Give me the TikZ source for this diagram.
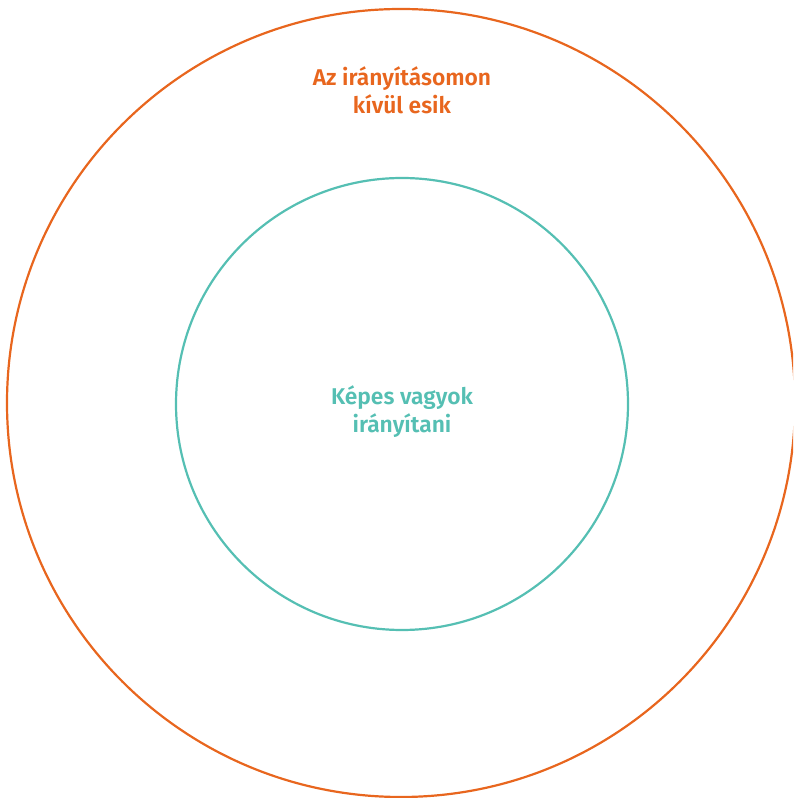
\documentclass[tikz,border=0pt]{standalone}
\usepackage{fontspec}
\setmainfont{Fira Sans SemiBold}
\definecolor{orangeC}{HTML}{E8661E}
\definecolor{tealC}{HTML}{55BFB3}
\begin{document}
\begin{tikzpicture}[x=1pt,y=1pt,
  lbl/.style={align=center,font=\fontsize{22.8}{28}\selectfont,inner sep=0pt}]
\useasboundingbox (0,0) rectangle (793,798);
\begin{scope}
\clip (0,0) rectangle (793,798);
\draw[orangeC,line width=2.2pt] (401,395) circle[radius=394];
\end{scope}
\draw[tealC,line width=2.2pt] (402,394) circle[radius=226];
\node[lbl,text=orangeC] (outer) at (402,708) {Az irányításomon\\kívül esik};
\node[lbl,text=tealC] (inner) at (402,386) {Képes vagyok\\irányítani};
\end{tikzpicture}
\end{document}
